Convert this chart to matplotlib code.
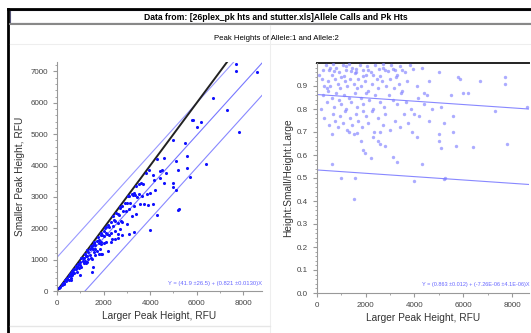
import matplotlib
matplotlib.use('Agg')
import matplotlib.pyplot as plt
import numpy as np
from matplotlib.patches import Rectangle
from matplotlib.lines import Line2D
from matplotlib.ticker import MultipleLocator, FormatStrFormatter

plt.rcParams['font.family'] = ['Liberation Sans', 'DejaVu Sans']

# larger peak height (RFU) and ratio small/large
larger = [350, 500, 650, 800, 900, 1050, 1200, 1300, 1450, 1600, 1750, 1900, 2050, 2200, 2400, 2550,
          2700, 2900, 3050, 3200, 3400, 3600, 3800, 3950, 4300, 5000, 600, 1100, 1550, 2300, 2600, 3300,
          700, 1400, 2000, 2800,
          200, 450, 550, 750, 850, 950, 1150, 1250, 1350, 1500, 1650, 1700, 1800, 1950, 2100, 2250,
          2450, 2500, 2650, 2850, 3000, 3150, 3350, 3500, 3700, 4100, 4600, 5800, 5850, 6700, 7700, 7700,
          3250, 400, 1000, 1900,
          250, 400, 600, 700, 800, 900, 1000, 1100, 1200, 1300, 1400, 1550, 1650, 1800, 1900, 2000,
          2150, 2300, 2400, 2600, 2750, 2950, 3100, 3300, 3450, 3650, 3850, 4150, 4400, 4700, 5100, 5500,
          6000, 6200, 8600, 7300, 4400, 4500,
          300, 500, 650, 750, 850, 950, 1050, 1150, 1250, 1350, 1450, 1600, 1700, 1850, 2000, 2100,
          2250, 2350, 2500, 2700, 2800, 3000, 3200, 3400, 3550, 3750, 3900, 4200, 4600, 5200, 5600, 5600,
          4000, 1900, 1300,
          600, 1500, 1650, 1800, 1900, 1950, 2600, 2800, 2600, 3100, 3300, 2300, 2500, 4100, 4300, 5000,
          5100, 5000, 5700, 6400, 7800, 600, 2200,
          1000, 1550, 1500, 4000, 5250, 5200,
          100, 150, 250, 300, 450, 550, 1200, 1600, 2100, 2700, 3100, 3500]
ratio = [0.99, 0.97, 0.995, 0.98, 0.96, 0.99, 0.97, 0.995, 0.98, 0.96, 0.99, 0.97, 0.985, 0.96, 0.99, 0.975,
         0.995, 0.965, 0.99, 0.97, 0.985, 0.96, 0.99, 0.975, 0.98, 0.96, 0.95, 0.945, 0.955, 0.95, 0.945, 0.95,
         0.965, 0.965, 0.95, 0.97,
         0.93, 0.92, 0.90, 0.93, 0.91, 0.89, 0.92, 0.90, 0.93, 0.91, 0.89, 0.93, 0.90, 0.92, 0.88, 0.91,
         0.93, 0.89, 0.92, 0.90, 0.93, 0.89, 0.91, 0.88, 0.92, 0.90, 0.92, 0.94, 0.93, 0.92, 0.94, 0.91,
         0.94, 0.89, 0.94, 0.945,
         0.86, 0.83, 0.85, 0.81, 0.87, 0.84, 0.82, 0.86, 0.80, 0.85, 0.83, 0.87, 0.81, 0.85, 0.82, 0.87,
         0.84, 0.80, 0.86, 0.83, 0.81, 0.86, 0.84, 0.82, 0.87, 0.83, 0.80, 0.85, 0.82, 0.80, 0.81, 0.86,
         0.87, 0.87, 0.81, 0.79, 0.87, 0.86,
         0.76, 0.73, 0.78, 0.75, 0.72, 0.77, 0.74, 0.79, 0.71, 0.76, 0.73, 0.78, 0.75, 0.72, 0.77, 0.74,
         0.79, 0.70, 0.76, 0.73, 0.78, 0.71, 0.75, 0.72, 0.78, 0.74, 0.70, 0.77, 0.75, 0.74, 0.77, 0.70,
         0.78, 0.79, 0.70,
         0.69, 0.69, 0.695, 0.66, 0.62, 0.61, 0.65, 0.64, 0.70, 0.59, 0.57, 0.68, 0.66, 0.68, 0.56, 0.66,
         0.63, 0.69, 0.64, 0.635, 0.65, 0.56, 0.585,
         0.50, 0.50, 0.41, 0.485, 0.50, 0.495,
         0.95, 0.80, 0.97, 0.90, 0.88, 0.98, 0.985, 0.975, 0.97, 0.98, 0.975, 0.97]

larger = np.array(larger, dtype=float)
ratio = np.array(ratio)
smaller = larger * ratio

# fitted lines (from the equations shown on the chart)
fit1 = (41.9, 0.821)
band1 = 1030
fit2 = (0.863, -7.26e-06)
lower2 = 0.535

fig = plt.figure(figsize=(5.31, 3.33), dpi=100)

# frame and header boxes
fig.add_artist(Line2D([8 / 531, 8 / 531], [0, 1 - 9 / 333], color='black', lw=2))
fig.add_artist(Line2D([8 / 531, 1], [1 - 9 / 333, 1 - 9 / 333], color='black', lw=2))
fig.add_artist(Rectangle((10 / 531, 1 - 23 / 333), 1, 13 / 333, facecolor='white',
                         edgecolor='#555577', lw=0.8))
fig.add_artist(Line2D([10 / 531, 1], [1 - 24 / 333, 1 - 24 / 333], color='#888888', lw=1.5))
fig.add_artist(Line2D([10 / 531, 1], [1 - 44 / 333, 1 - 44 / 333], color='#eeeeee', lw=0.8))
fig.add_artist(Line2D([270 / 531, 270 / 531], [0, 1 - 25 / 333], color='#eeeeee', lw=0.8))
fig.add_artist(Line2D([10 / 531, 270 / 531], [1 - 326 / 333, 1 - 326 / 333], color='#e6e6e6', lw=1))
fig.text(0.52, 1 - 17 / 333, 'Data from: [26plex_pk hts and stutter.xls]Allele Calls and Pk Hts',
         ha='center', va='center', fontsize=6.2, fontweight='bold')
fig.text(0.52, 1 - 38 / 333, 'Peak Heights of Allele:1 and Allele:2',
         ha='center', va='center', fontsize=5.6)

tick_col = '#444444'


def style_axes(ax):
    for s in ['top', 'right']:
        ax.spines[s].set_visible(False)
    for s in ['left', 'bottom']:
        ax.spines[s].set_color('#999999')
        ax.spines[s].set_linewidth(0.8)
    ax.tick_params(which='both', colors='#999999', labelcolor=tick_col, labelsize=5.8,
                   direction='out')
    ax.tick_params(which='major', length=3, width=0.8)
    ax.tick_params(which='minor', length=1.5, width=0.6)
    ax.xaxis.set_major_locator(MultipleLocator(2000))
    ax.xaxis.set_minor_locator(MultipleLocator(1000))


# left: smaller vs larger
ax1 = fig.add_axes([57 / 531, 1 - 291 / 333, 205 / 531, 229 / 333])
style_axes(ax1)
xx = np.array([0, 8800])
ax1.plot(xx, fit1[0] + fit1[1] * xx + band1, color='#9999ff', lw=0.8)
ax1.plot(xx, fit1[0] + fit1[1] * xx, color='#7777ff', lw=0.8)
ax1.plot(xx, fit1[0] + fit1[1] * xx - band1, color='#8888ff', lw=0.8)
ax1.plot([0, 7300], [0, 7300], color='#222222', lw=1.4)
ax1.scatter(larger, smaller, s=5, color='#1010ff', lw=0, zorder=3)
ax1.set_xlim(0, 8800)
ax1.set_ylim(0, 7300)
ax1.yaxis.set_major_locator(MultipleLocator(1000))
ax1.yaxis.set_minor_locator(MultipleLocator(200))
ax1.set_xlabel('Larger Peak Height, RFU', fontsize=7.3, color='#333333', labelpad=3)
ax1.set_ylabel('Smaller Peak Height, RFU', fontsize=7.3, color='#333333', labelpad=4)
ax1.text(8800, 250, 'Y = (41.9 \u00b126.5) + (0.821 \u00b10.0130)X', ha='right', va='center',
         fontsize=4.2, color='#6666ff')

# right: ratio vs larger
ax2 = fig.add_axes([317 / 531, 1 - 293 / 333, 212 / 531, 230 / 333])
style_axes(ax2)
xx2 = np.array([0, 8700])
ax2.plot(xx2, fit2[0] + fit2[1] * xx2, color='#8888ff', lw=0.8)
ax2.plot(xx2, lower2 + fit2[1] * xx2, color='#8888ff', lw=0.8)
ax2.plot(xx2, [1.0, 1.0], color='#222222', lw=1.4, clip_on=False)
ax2.scatter(larger, ratio, s=6, color='#8080ff', alpha=0.65, lw=0, zorder=3)
ax2.set_xlim(0, 8700)
ax2.set_ylim(0, 1.0)
ax2.yaxis.set_minor_locator(MultipleLocator(0.02))
ax2.yaxis.set_major_formatter(FormatStrFormatter('%.1f'))
ax2.set_yticks(np.arange(0, 0.95, 0.1))
ax2.set_xlabel('Larger Peak Height, RFU', fontsize=7.3, color='#333333', labelpad=3)
ax2.set_ylabel('Height:Small/Height:Large', fontsize=7.3, color='#333333', labelpad=3)
ax2.text(8700, 0.035, 'Y = (0.863 \u00b10.012) + (-7.26E-06 \u00b14.1E-06)X', ha='right', va='center',
         fontsize=4.0, color='#6666ff')

fig.savefig('out.png', dpi=100)
